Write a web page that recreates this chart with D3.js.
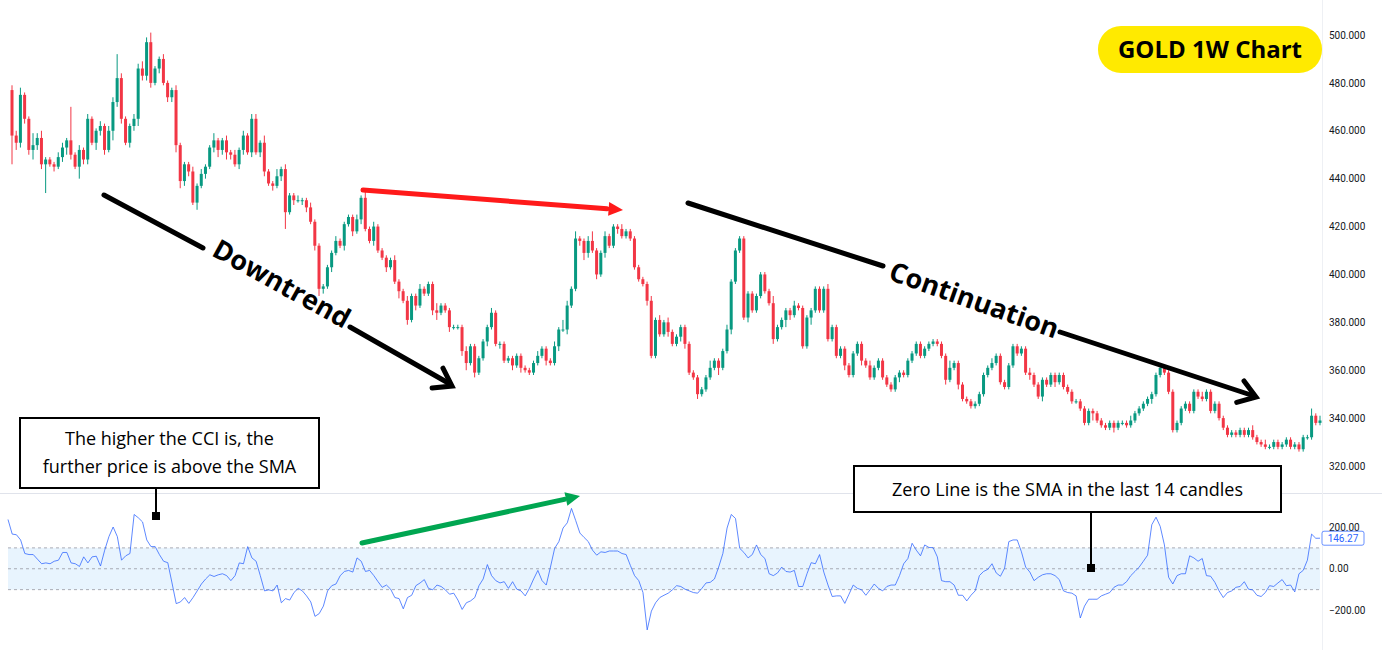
<!DOCTYPE html>
<html><head><meta charset="utf-8">
<script src="https://cdn.jsdelivr.net/npm/d3@7"></script>
<style>body{margin:0;background:#fff}svg{display:block;font-family:"Open Sans",Roboto,sans-serif}</style>
</head><body><svg id="c" width="1382" height="650"></svg>
<script>
const firstOpen = 477;
const closes = [
458,455,475,465,452,454,457,446,448,446,
445,449,453,456,450,445,452,448,465,455,
460,462,452,460,472,482,465,455,462,465,
486,483,497,480,486,490,480,474,477,454,
439,446,443,430,437,442,445,453,456,452,
456,451,450,446,452,458,451,465,451,455,
443,438,437,441,444,426,433,431,431,431,
428,422,412,394,395,403,409,414,412,421,
424,418,423,432,419,414,420,410,407,403,
406,397,393,389,381,391,387,394,392,396,
385,384,387,385,378,378,378,368,363,370,
359,365,372,378,384,371,371,364,365,362,
366,361,360,359,363,366,369,364,363,370,
377,377,387,394,415,414,409,414,410,400,
409,416,412,420,419,416,418,415,403,398,
396,389,366,381,375,380,376,371,374,378,
371,359,357,350,352,357,361,364,361,368,
377,397,410,415,382,392,385,391,400,393,
388,373,378,381,385,383,387,386,370,382,
385,394,385,394,373,378,366,369,362,358,
367,371,364,362,357,361,364,357,354,352,
357,359,358,364,367,371,366,369,371,372,
371,366,356,361,363,354,348,347,345,346,
350,358,361,363,366,355,353,362,370,367,
369,359,358,354,349,356,354,358,355,358,
353,351,347,347,344,338,343,342,339,337,
336,338,336,338,338,337,339,342,344,346,
348,350,358,361,359,351,335,338,344,346,
343,351,349,348,351,343,346,340,336,333,
334,333,335,333,335,332,330,329,328,328,
330,328,329,331,328,329,327,332,332,341,
338,339];
const upperWick = [
2,2,3,1,1,5,2,3,1,1, 1,2,2,1,14,1,2,1,2,1, 1,2,1,2,2,10,2,1,1,2,
2,3,2,4,1,1,2,1,1,2, 1,1,1,2,1,2,1,1,3,1, 1,2,1,2,1,2,1,2,2,1,
3,1,1,3,1,2,1,1,2,1, 1,2,1,1,1,1,1,2,1,1, 1,1,2,1,4,1,2,1,1,1,
1,2,1,1,2,1,1,2,1,1, 1,3,1,1,1,1,1,1,2,1, 1,1,1,1,2,1,1,1,1,1,
1,1,1,1,1,2,1,1,1,2, 1,4,2,1,3,1,1,2,4,1, 1,2,1,1,1,2,1,1,1,1,
1,1,2,1,2,1,2,1,1,1, 1,1,1,1,1,1,3,1,1,1, 2,1,1,1,1,1,1,1,1,1,
1,3,1,1,1,1,2,1,1,1, 1,1,1,1,2,1,1,1,1,1, 1,1,1,1,2,1,1,1,1,1,
1,1,1,1,1,1,1,1,1,1, 1,1,1,3,1,1,1,1,1,1, 1,1,1,2,1,1,1,1,1,1,
1,1,2,1,1,1,1,1,1,1, 1,1,1,1,1,1,1,1,1,1, 1,1,1,1,1,1,2,1,1,1,
1,1,1,1,1,1,1,1,1,1, 1,1,1,2,1,1,1,1,1,1, 1,1,1,1,1,2,1,1,2,1,
1,1,1,1,1,1,1,1,1,3, 1,2];
const lowerWick = [
12,3,2,2,2,4,2,2,12,1, 2,1,2,3,2,1,5,2,2,1, 3,2,2,1,4,2,2,1,2,2,
3,2,2,2,1,2,1,2,2,3, 3,2,2,1,3,1,2,1,2,3, 2,3,2,1,2,2,1,2,1,2,
2,1,2,1,2,7,1,2,1,2, 2,1,2,3,2,1,2,1,1,2, 1,2,1,2,1,1,2,1,1,2,
1,1,3,1,2,1,2,1,1,1, 2,3,1,1,2,1,1,2,3,1, 2,1,1,2,1,1,2,1,1,2,
1,2,1,1,1,1,1,2,1,1, 2,1,2,1,1,2,3,2,1,2, 1,2,1,1,2,1,1,1,1,1,
1,2,1,1,1,1,2,1,1,2, 2,1,1,2,1,1,1,1,3,1, 1,2,1,1,1,2,1,1,1,1,
1,2,1,1,3,2,1,1,1,1, 3,1,1,1,1,1,1,1,2,1, 1,1,2,1,1,1,1,1,1,1,
1,2,1,1,1,1,1,1,1,1, 1,1,2,1,1,2,1,1,1,1, 1,1,1,1,1,1,1,1,1,1,
1,1,2,1,1,2,1,1,2,1, 1,1,1,1,1,1,1,3,1,1, 1,1,2,1,1,1,1,1,1,1,
1,2,1,1,1,1,1,1,1,1, 1,1,1,1,1,1,1,1,1,1, 1,1,1,1,1,1,1,1,1,1,
1,1,1,1,1,1,1,1,1,1, 1,1];
const cci = [
236,166,163,138,73,68,68,46,24,28,24,36,41,78,78,28,24,11,57,28,
57,60,13,89,154,200,154,41,62,73,260,244,224,138,106,106,68,36,29,-68,
-167,-159,-138,-166,-138,-106,-73,-49,-29,-37,-29,-24,-33,-57,-33,28,24,106,52,36,
-33,-106,-101,-106,-78,-163,-143,-150,-114,-94,-106,-130,-159,-228,-215,-179,-106,-81,-73,-33,
-13,-8,-16,52,36,-13,-8,-33,-62,-89,-78,-98,-138,-143,-192,-138,-127,-81,-68,-52,
-94,-101,-78,-85,-101,-122,-117,-150,
-195,-163,-154,-138,-81,-49,20,-33,-57,-68,-62,-94,-62,-98,-106,-130,-94,-49,-8,-57,
-78,8,98,130,195,220,289,231,171,150,130,89,65,81,78,85,85,85,73,68,
16,-33,-57,-114,-293,-203,-163,-138,-127,-117,-101,-81,-85,-98,-106,-114,-117,-94,-68,-65,
-49,8,73,195,260,241,98,78,52,68,114,68,49,-24,-33,-20,8,-13,-16,-8,
-85,-85,-24,29,24,68,-16,-78,-133,-130,-130,-166,-122,-78,-94,-101,-127,-101,-73,-94,
-106,-85,-78,-78,-33,24,
49,122,89,62,114,102,101,57,-57,-62,-62,-78,-127,-127,-154,-127,-106,-33,-13,-3,
24,-20,-36,3,130,138,138,81,8,-16,-57,-41,-29,-24,-24,-33,-52,-106,-114,-117,
-130,-236,-179,-146,-146,-146,-130,-122,-114,-89,-78,-78,-62,-33,-13,8,36,65,211,247,
203,114,-41,-73,-33,-24,-24,62,52,36,49,-33,-36,-65,-106,-138,-114,-106,-89,-85,
-62,-98,-101,-127,-133,-114,-81,-85,-68,-52,-81,-78,-111,-24,-8,41,166,146,146.27];
const priceTicks = [320,340,360,380,400,420,440,460,480,500];
const cciTicks = [200,0,-200];
const cciBands = [100,0,-100];

const svg = d3.select("#c");
const n = closes.length;
const opens = closes.map((c,i)=> i===0 ? firstOpen : closes[i-1]);
const candles = closes.map((c,i)=>({o:opens[i],c:c,h:Math.max(opens[i],c)+upperWick[i],l:Math.min(opens[i],c)-lowerWick[i]}));

const x = d3.scaleLinear().domain([0,n-1]).range([12,1320]);
const y = d3.scaleLinear().domain([320,500]).range([466,35]);
const yc = d3.scaleLinear().domain([-200,200]).range([610.5,527]);
const xc = d3.scaleLinear().domain([0,cci.length-1]).range([8,1320]);
const G="#089981", R="#f23645";

// separators
svg.append("line").attr("x1",0).attr("x2",1382).attr("y1",493.5).attr("y2",493.5).attr("stroke","#e0e3eb");
svg.append("line").attr("x1",1322.5).attr("x2",1322.5).attr("y1",0).attr("y2",650).attr("stroke","#eef0f4");

// price axis
const pa = svg.append("g").attr("transform","translate(1322,0)").call(d3.axisRight(y).tickValues(priceTicks).tickSize(0).tickPadding(7).tickFormat(d3.format(".3f")));
pa.select(".domain").remove();
pa.selectAll("text").attr("font-size",10).attr("fill","#131722").attr("font-family","Roboto,sans-serif");

// candles
const cg = svg.append("g");
cg.selectAll("line").data(candles).join("line")
 .attr("x1",(d,i)=>x(i)).attr("x2",(d,i)=>x(i)).attr("y1",d=>y(d.h)).attr("y2",d=>y(d.l))
 .attr("stroke",d=>d.c>=d.o?G:R).attr("stroke-width",1);
cg.selectAll("rect").data(candles).join("rect")
 .attr("x",(d,i)=>x(i)-1.5).attr("width",3)
 .attr("y",d=>y(Math.max(d.o,d.c))).attr("height",d=>Math.max(1,Math.abs(y(d.o)-y(d.c))))
 .attr("fill",d=>d.c>=d.o?G:R);

// CCI panel
svg.append("rect").attr("x",8).attr("width",1312).attr("y",yc(100)).attr("height",yc(-100)-yc(100)).attr("fill","rgba(33,150,243,0.1)");
svg.selectAll(".band").data(cciBands).join("line").attr("class","band")
 .attr("x1",8).attr("x2",1320).attr("y1",d=>yc(d)).attr("y2",d=>yc(d))
 .attr("stroke","#9598a1").attr("stroke-dasharray","3,3").attr("stroke-width",0.8);
svg.append("path").datum(cci).attr("fill","none").attr("stroke","#2962ff").attr("stroke-opacity",0.75).attr("stroke-width",1)
 .attr("d",d3.line().x((d,i)=>xc(i)).y(d=>yc(d)));
const ca = svg.append("g").attr("transform","translate(1322,0)").call(d3.axisRight(yc).tickValues(cciTicks).tickSize(0).tickPadding(7).tickFormat(d3.format(".2f")));
ca.select(".domain").remove();
ca.selectAll("text").attr("font-size",10).attr("fill","#131722").attr("font-family","Roboto,sans-serif");
const last = cci[cci.length-1];
svg.append("rect").attr("x",1322).attr("y",yc(last)-7).attr("width",42).attr("height",14).attr("rx",2).attr("fill","#fff").attr("stroke","#2962ff").attr("stroke-opacity",0.7);
svg.append("text").attr("x",1343).attr("y",yc(last)+3.5).attr("text-anchor","middle").attr("font-size",10).attr("fill","#2962ff").attr("font-family","Roboto,sans-serif").text(d3.format(".2f")(last));

// annotations
function chevron(x1,y1,x2,y2,color,w,size){
  const a=Math.atan2(y2-y1,x2-x1);
  const p1=[x2-size*Math.cos(a-0.6),y2-size*Math.sin(a-0.6)];
  const p2=[x2-size*Math.cos(a+0.6),y2-size*Math.sin(a+0.6)];
  svg.append("path").attr("d",`M${p1}L${x2},${y2}L${p2}`).attr("fill","none").attr("stroke",color).attr("stroke-width",w).attr("stroke-linejoin","miter").attr("stroke-linecap","round");
}
function filledArrow(x1,y1,x2,y2,color,w,size){
  const a=Math.atan2(y2-y1,x2-x1);
  const bx=x2-size*Math.cos(a), by=y2-size*Math.sin(a);
  svg.append("line").attr("x1",x1).attr("y1",y1).attr("x2",bx).attr("y2",by).attr("stroke",color).attr("stroke-width",w).attr("stroke-linecap","round");
  const p1=[x2-size*Math.cos(a-0.45),y2-size*Math.sin(a-0.45)];
  const p2=[x2-size*Math.cos(a+0.45),y2-size*Math.sin(a+0.45)];
  svg.append("path").attr("d",`M${p1}L${x2},${y2}L${p2}Z`).attr("fill",color);
}
function seg(x1,y1,x2,y2,c,w){svg.append("line").attr("x1",x1).attr("y1",y1).attr("x2",x2).attr("y2",y2).attr("stroke",c).attr("stroke-width",w).attr("stroke-linecap","round");}

// Downtrend
seg(104,195,203,248,"#000",5);
seg(350,327,450,384,"#000",5);
chevron(104,195,452,386,"#000",5,20);
svg.append("text").attr("transform","translate(277,292) rotate(29)").attr("text-anchor","middle").attr("font-size",27).attr("font-weight","bold").attr("fill","#000").text("Downtrend");
// Continuation
seg(688,203,883,266,"#000",5);
seg(1060,332,1254,396,"#000",5);
chevron(688,203,1256,397,"#000",5,20);
svg.append("text").attr("transform","translate(971,309) rotate(19.5)").attr("text-anchor","middle").attr("font-size",27).attr("font-weight","bold").attr("fill","#000").text("Continuation");
// red arrow
filledArrow(363,190,623,210,"#ff1a1a",5,16);
// green arrow
filledArrow(362,543,580,496,"#00a651",5,16);

// title pill
svg.append("rect").attr("x",1098).attr("y",26).attr("width",224).attr("height",47).attr("rx",23).attr("fill","#ffea00");
svg.append("text").attr("x",1210).attr("y",58).attr("text-anchor","middle").attr("font-size",24).attr("font-weight","bold").attr("fill","#000").text("GOLD 1W Chart");

// boxes
function box(x0,y0,w,h,lines,cx,fy){
  svg.append("rect").attr("x",x0).attr("y",y0).attr("width",w).attr("height",h).attr("fill","#fff").attr("stroke","#000").attr("stroke-width",2);
  lines.forEach((t,i)=>svg.append("text").attr("x",x0+w/2).attr("y",fy+i*28).attr("text-anchor","middle").attr("font-size",18).attr("fill","#000").text(t));
}
box(20,418,299,70,["The higher the CCI is, the","further price is above the SMA"],0,445);
seg(156,488,156,514,"#000",2);
svg.append("rect").attr("x",152).attr("y",512).attr("width",8).attr("height",8).attr("fill","#000");
box(854,466,427,46,["Zero Line is the SMA in the last 14 candles"],0,496);
seg(1091,512,1091,566,"#000",2);
svg.append("rect").attr("x",1087).attr("y",564).attr("width",8).attr("height",8).attr("fill","#000");
</script></body></html>
